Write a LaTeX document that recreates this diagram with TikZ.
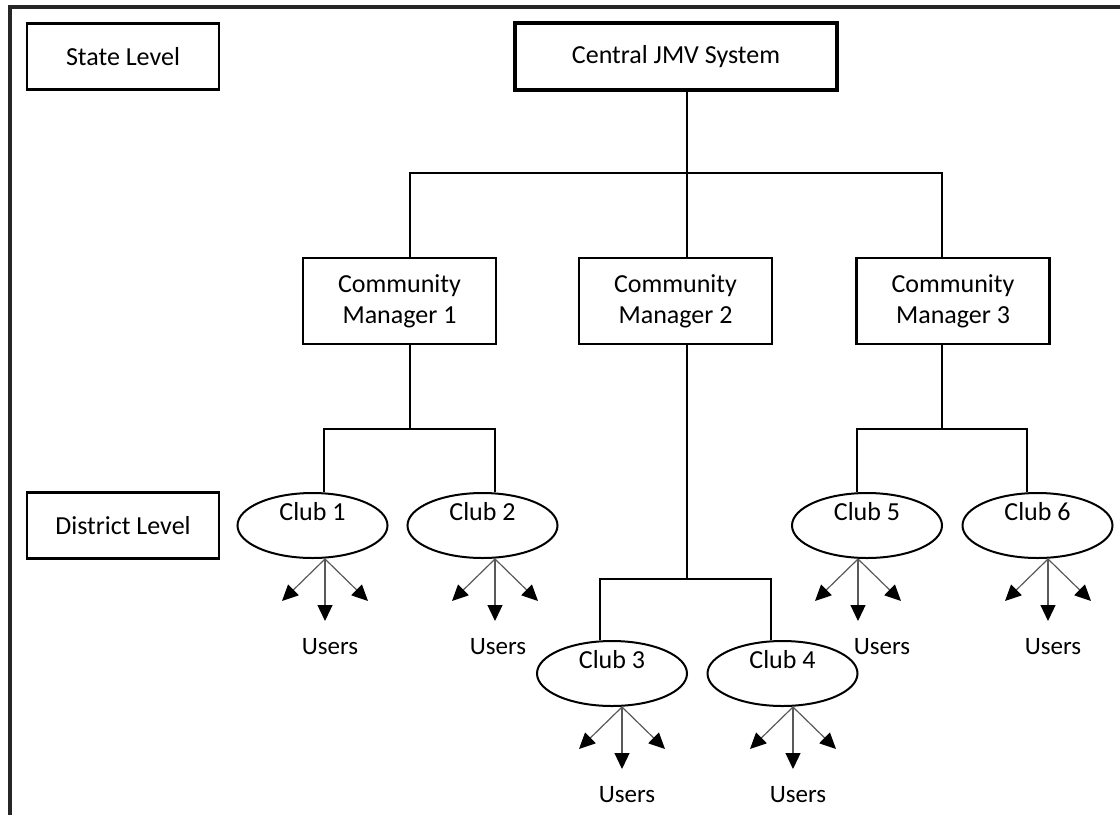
\documentclass[tikz,border=0pt]{standalone}
\usepackage{fontspec}
\setmainfont{Carlito}
\usetikzlibrary{shapes.geometric}
\usetikzlibrary{arrows.meta}

\begin{document}
\begin{tikzpicture}[x=1pt, y=-1pt,
  every node/.style={font=\fontsize{26}{31}\selectfont, inner sep=0pt},
  levelbox/.style={draw, line width=2.8pt, minimum width=192pt, minimum height=66pt},
  topbox/.style={draw, line width=3.8pt, minimum width=322pt, minimum height=67pt},
  mgrbox/.style={draw, line width=2.8pt, minimum width=193pt, minimum height=86pt, align=center},
  clubnode/.style={ellipse, draw, line width=2pt, minimum width=150pt, minimum height=65pt,
    text height=17pt, text depth=28pt},
  link/.style={line width=2.2pt},
  fan/.style={line width=1.2pt, draw=black!65, -{Triangle[length=16pt, width=15pt, color=black]}},
  users/.style={font=\fontsize{25}{29}\selectfont}]

\useasboundingbox (0,0) rectangle (1120,815);
\draw[line width=3.2pt, black!85] (10,815) -- (10,7) -- (1120,7);

% levels and boxes
\node[levelbox] (state) at (123,56.5) {State Level};
\node[topbox] (central) at (676,56.5) {Central JMV System};
\node[mgrbox] (cm1) at (399.5,301) {Community\\Manager 1};
\node[mgrbox] (cm2) at (675.5,301) {Community\\Manager 2};
\node[mgrbox] (cm3) at (953,301) {Community\\Manager 3};
\node[levelbox] (district) at (123,525.5) {District Level};

% clubs
\node[clubnode] (club1) at (312.5,525.5) {Club 1};
\node[clubnode] (club2) at (482.5,525.5) {Club 2};
\node[clubnode] (club3) at (612,673.5) {Club 3};
\node[clubnode] (club4) at (782.5,673.5) {Club 4};
\node[clubnode] (club5) at (867,525.5) {Club 5};
\node[clubnode] (club6) at (1037.5,525.5) {Club 6};

% tree
\coordinate (s1) at (410,173);
\coordinate (s2) at (687,173);
\coordinate (s3) at (942,173);
\draw[link] (central.south -| s2) -- (cm2.north -| s2);
\draw[link] (cm1.north -| s1) -- (s1) -- (s3) -- (cm3.north -| s3);

\coordinate (b1) at (324,429);
\coordinate (b2) at (495,429);
\draw[link] (cm1.south -| s1) -- (s1 |- b1);
\draw[link] (club1.north -| b1) -- (b1) -- (b2) -- (club2.north -| b2);

\coordinate (b3) at (600,579);
\coordinate (b4) at (771,579);
\draw[link] (cm2.south -| s2) -- (s2 |- b3);
\draw[link] (club3.north -| b3) -- (b3) -- (b4) -- (club4.north -| b4);

\coordinate (b5) at (857,429);
\coordinate (b6) at (1027,429);
\draw[link] (cm3.south -| s3) -- (s3 |- b5);
\draw[link] (club5.north -| b5) -- (b5) -- (b6) -- (club6.north -| b6);

% users
\coordinate (r1) at (club1.south -| 325,0);
\coordinate (r2) at (club2.south -| 495,0);
\coordinate (r3) at (club3.south -| 622,0);
\coordinate (r4) at (club4.south -| 793,0);
\coordinate (r5) at (club5.south -| 858,0);
\coordinate (r6) at (club6.south -| 1048,0);
\draw[fan] (r1) -- ++(-43,42); \draw[fan] (r1) -- ++(0,62); \draw[fan] (r1) -- ++(43,42);
\draw[fan] (r2) -- ++(-43,42); \draw[fan] (r2) -- ++(0,62); \draw[fan] (r2) -- ++(43,42);
\draw[fan] (r3) -- ++(-43,42); \draw[fan] (r3) -- ++(0,62); \draw[fan] (r3) -- ++(43,42);
\draw[fan] (r4) -- ++(-43,42); \draw[fan] (r4) -- ++(0,62); \draw[fan] (r4) -- ++(43,42);
\draw[fan] (r5) -- ++(-43,42); \draw[fan] (r5) -- ++(0,62); \draw[fan] (r5) -- ++(43,42);
\draw[fan] (r6) -- ++(-43,42); \draw[fan] (r6) -- ++(0,62); \draw[fan] (r6) -- ++(43,42);

\node[users] (u1) at (330,647) {Users};
\node[users] (u2) at (498,647) {Users};
\node[users] (u3) at (627,795) {Users};
\node[users] (u4) at (798,795) {Users};
\node[users] (u5) at (882,647) {Users};
\node[users] (u6) at (1053,647) {Users};

\end{tikzpicture}
\end{document}
